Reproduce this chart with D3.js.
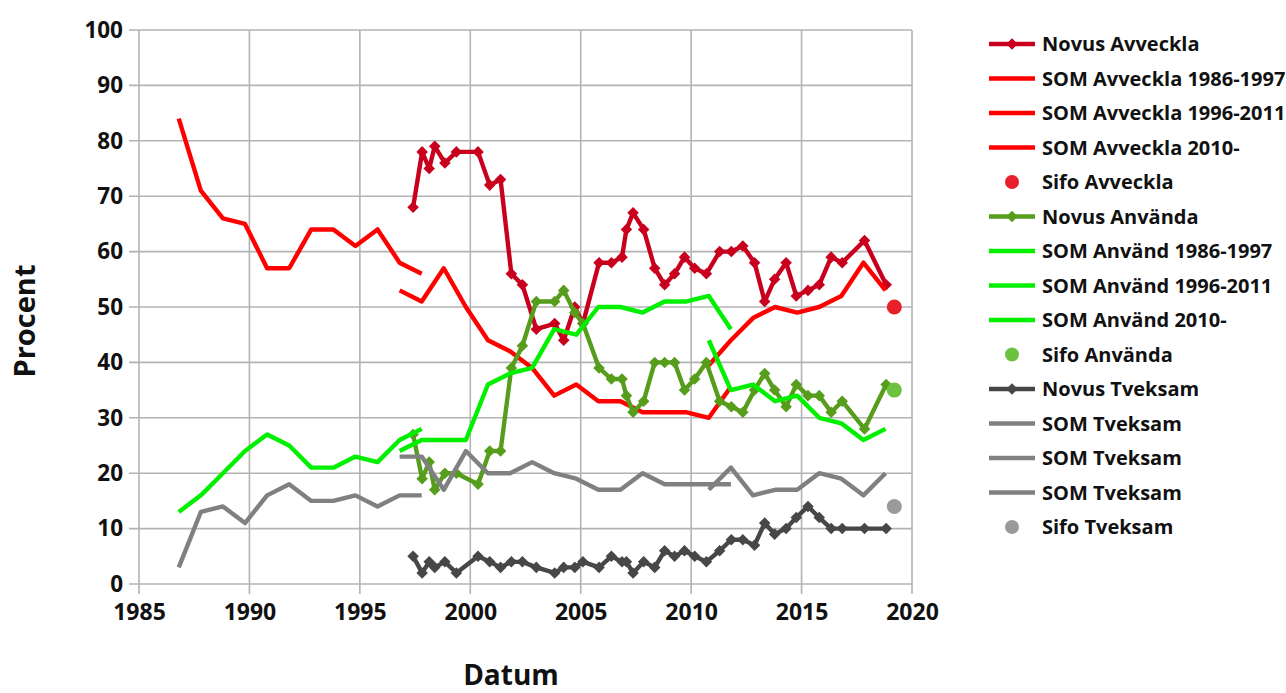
<!DOCTYPE html>
<html><head><meta charset="utf-8">
<script src="https://cdn.jsdelivr.net/npm/d3@7"></script>
<style>
html,body{margin:0;padding:0;background:#fff;}
svg{display:block;font-family:'Open Sans',sans-serif;font-weight:700;}
</style></head><body>
<svg id="chart" width="1286" height="693"></svg>
<script>
// ---- data ----
const xTicks = [1985,1990,1995,2000,2005,2010,2015,2020];
const yTicks = [0,10,20,30,40,50,60,70,80,90,100];

const novusDates = [1997.41,1997.82,1998.14,1998.39,1998.85,1999.37,2000.35,2000.88,2001.37,2001.86,2002.36,2002.99,2003.82,2004.23,2004.73,2005.10,2005.83,2006.39,2006.87,2007.07,2007.37,2007.85,2008.35,2008.80,2009.25,2009.70,2010.16,2010.69,2011.29,2011.82,2012.34,2012.87,2013.33,2013.78,2014.30,2014.76,2015.29,2015.80,2016.34,2016.84,2017.85,2018.83];
const novusAvveckla = [68,78,75,79,76,78,78,72,73,56,54,46,47,44,50,47,58,58,59,64,67,64,57,54,56,59,57,56,60,60,61,58,51,55,58,52,53,54,59,58,62,54];
const novusAnvanda = [27,19,22,17,20,20,18,24,24,39,43,51,51,53,49,47,39,37,37,34,31,33,40,40,40,35,37,40,33,32,31,35,38,35,32,36,34,34,31,33,28,36];
const novusTveksam = [5,2,4,3,4,2,5,4,3,4,4,3,2,3,3,4,3,5,4,4,2,4,3,6,5,6,5,4,6,8,8,7,11,9,10,12,14,12,10,10,10,10];

const somYears1 = [1986.8,1987.8,1988.8,1989.8,1990.8,1991.8,1992.8,1993.8,1994.8,1995.8,1996.8,1997.8];
const somAvveckla1 = [84,71,66,65,57,57,64,64,61,64,58,56];
const somAnvand1 = [13,16,20,24,27,25,21,21,23,22,26,28];
const somTveksam1 = [3,13,14,11,16,18,15,15,16,14,16,16];

const somYears2 = [1996.8,1997.8,1998.8,1999.8,2000.8,2001.8,2002.8,2003.8,2004.8,2005.8,2006.8,2007.8,2008.8,2009.8,2010.8,2011.8];
const somAvveckla2 = [53,51,57,50,44,42,39,34,36,33,33,31,31,31,30,35.6];
const somAnvand2 = [24,26,26,26,36,38,39,46,45,50,50,49,51,51,52,46];
const somTveksam2 = [23,23,17,24,20,20,22,20,19,17,17,20,18,18,18,18];

const somYears3 = [2010.8,2011.8,2012.8,2013.8,2014.8,2015.8,2016.8,2017.8,2018.8];
const somAvveckla3 = [39.5,44,48,50,49,50,52,58,53];
const somAnvand3 = [44,35,36,33,34,30,29,26,28];
const somTveksam3 = [17,21,16,17,17,20,19,16,20];

const sifoDate = [2019.2];
const sifoAvveckla = [50];
const sifoAnvanda = [35];
const sifoTveksam = [14];

const legendLabels = ["Novus Avveckla","SOM Avveckla 1986-1997","SOM Avveckla 1996-2011","SOM Avveckla 2010-","Sifo Avveckla","Novus Använda","SOM Använd 1986-1997","SOM Använd 1996-2011","SOM Använd 2010-","Sifo Använda","Novus Tveksam","SOM Tveksam","SOM Tveksam","SOM Tveksam","Sifo Tveksam"];

// ---- styles ----
const C = {novusAv:"#c8001e", somAv:"#ff0000", sifoAv:"#e8202a",
           novusAn:"#579d1c", somAn:"#00f000", sifoAn:"#6cc13f",
           novusTv:"#474747", somTv:"#808080", sifoTv:"#9a9a9a"};

const series = [
  {name:legendLabels[0], type:"novus", x:novusDates, y:novusAvveckla, color:C.novusAv},
  {name:legendLabels[1], type:"line", x:somYears1, y:somAvveckla1, color:C.somAv},
  {name:legendLabels[2], type:"line", x:somYears2, y:somAvveckla2, color:C.somAv},
  {name:legendLabels[3], type:"line", x:somYears3, y:somAvveckla3, color:C.somAv},
  {name:legendLabels[4], type:"dot", x:sifoDate, y:sifoAvveckla, color:C.sifoAv},
  {name:legendLabels[5], type:"novus", x:novusDates, y:novusAnvanda, color:C.novusAn},
  {name:legendLabels[6], type:"line", x:somYears1, y:somAnvand1, color:C.somAn},
  {name:legendLabels[7], type:"line", x:somYears2, y:somAnvand2, color:C.somAn},
  {name:legendLabels[8], type:"line", x:somYears3, y:somAnvand3, color:C.somAn},
  {name:legendLabels[9], type:"dot", x:sifoDate, y:sifoAnvanda, color:C.sifoAn},
  {name:legendLabels[10], type:"novus", x:novusDates, y:novusTveksam, color:C.novusTv},
  {name:legendLabels[11], type:"line", x:somYears1, y:somTveksam1, color:C.somTv},
  {name:legendLabels[12], type:"line", x:somYears2, y:somTveksam2, color:C.somTv},
  {name:legendLabels[13], type:"line", x:somYears3, y:somTveksam3, color:C.somTv},
  {name:legendLabels[14], type:"dot", x:sifoDate, y:sifoTveksam, color:C.sifoTv}
];

// ---- chart ----
const svg = d3.select("#chart");
const L = 139, R = 912, T = 30, B = 584;
const x = d3.scaleLinear().domain([1985,2020]).range([L,R]);
const y = d3.scaleLinear().domain([0,100]).range([B,T]);
const gridColor = "#b3b3b3";

// grid
const g = svg.append("g");
g.selectAll("line.h").data(yTicks).join("line")
  .attr("x1",L-10).attr("x2",R).attr("y1",d=>y(d)).attr("y2",d=>y(d))
  .attr("stroke",gridColor).attr("stroke-width",1.6);
g.selectAll("line.v").data(xTicks).join("line")
  .attr("x1",d=>x(d)).attr("x2",d=>x(d)).attr("y1",T).attr("y2",B+10)
  .attr("stroke",gridColor).attr("stroke-width",1.6);

// axes labels
const yAxis = d3.axisLeft(y).tickValues(yTicks).tickSize(0).tickPadding(16);
const ya = svg.append("g").attr("transform",`translate(${L},0)`).call(yAxis);
ya.select(".domain").remove();
ya.selectAll("text").attr("font-size",22.5).attr("font-weight",700).attr("font-family","'Open Sans',sans-serif").attr("fill","#111");

const xAxis = d3.axisBottom(x).tickValues(xTicks).tickSize(0).tickPadding(20).tickFormat(d3.format("d"));
const xa = svg.append("g").attr("transform",`translate(0,${B})`).call(xAxis);
xa.select(".domain").remove();
xa.selectAll("text").attr("font-size",23).attr("font-weight",700).attr("font-family","'Open Sans',sans-serif").attr("fill","#111");

svg.append("text").attr("x",511).attr("y",685).attr("text-anchor","middle")
  .attr("font-size",28).attr("fill","#111").text("Datum");
svg.append("text").attr("transform","translate(35,321) rotate(-90)").attr("text-anchor","middle")
  .attr("font-size",29).attr("fill","#111").text("Procent");

// series
const line = d3.line();
const diamond = d3.symbol().type(d3.symbolDiamond2).size(85);
series.forEach(s => {
  const pts = s.x.map((d,i)=>[x(d), y(s.y[i])]);
  if (s.type === "dot") {
    svg.append("g").selectAll("circle").data(pts).join("circle")
      .attr("cx",d=>d[0]).attr("cy",d=>d[1]).attr("r",7.5).attr("fill",s.color);
    return;
  }
  svg.append("path").attr("d",line(pts)).attr("fill","none")
    .attr("stroke",s.color).attr("stroke-width",4.4).attr("stroke-linejoin","round");
  if (s.type === "novus") {
    svg.append("g").selectAll("path").data(pts).join("path")
      .attr("transform",d=>`translate(${d[0]},${d[1]})`).attr("d",diamond).attr("fill",s.color);
  }
});

// legend
const lg = svg.append("g");
series.forEach((s,i) => {
  const cy = 44 + i*34.5;
  if (s.type === "dot") {
    lg.append("circle").attr("cx",1012).attr("cy",cy).attr("r",7).attr("fill",s.color);
  } else {
    lg.append("line").attr("x1",989).attr("x2",1035).attr("y1",cy).attr("y2",cy)
      .attr("stroke",s.color).attr("stroke-width",4.4);
    if (s.type === "novus") {
      lg.append("path").attr("transform",`translate(1012,${cy})`).attr("d",diamond).attr("fill",s.color);
    }
  }
  lg.append("text").attr("x",1042).attr("y",cy).attr("dy","0.35em")
    .attr("font-size",20).attr("fill","#111").text(s.name);
});
</script>
</body></html>
